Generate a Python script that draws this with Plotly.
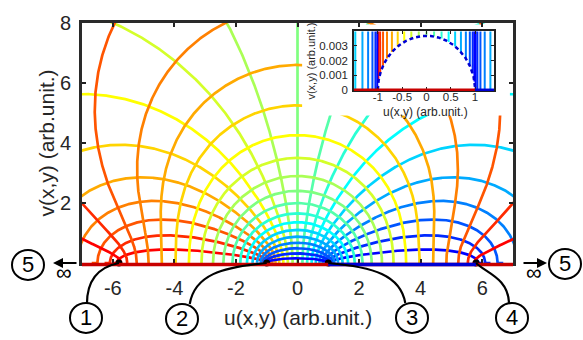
import numpy as np
import plotly.graph_objects as go

# ---------------- values ----------------
ELECTRODE_EDGES = [-5.8, -1.0, 1.0, 5.8]      # marked points 1..4 on the u axis
POINT_NAMES = ["1", "2", "3", "4"]
PHI_INDEX = [0, 1, 2, 3, 4, 5, 6, 7, 8, 9, 10, 11, 12, 13, 14, 15, 16, 17, 18, 19, 20]  # potential lines
PSI_INDEX = [0, 1, 2, 3, 4, 5, 6, 7, 8, 9, 10, 11, 12, 13, 14, 15, 16, 17, 18, 19, 20]  # field lines
EPS_FIELD = 0.0037                              # height of lowest field line (inset bump)
X_RANGE = [-7, 7]
Y_RANGE = [0, 8]
X_TICKS = [-6, -4, -2, 0, 2, 4, 6]
X_TICKTEXT = ["-6", "-4", "-2", "0", "2", "4", "6"]
Y_TICKS = [2, 4, 6, 8]
Y_TICKTEXT = ["2", "4", "6", "8"]
IN_X_RANGE = [-1.49, 1.39]
IN_Y_RANGE = [0, 0.004]
IN_X_TICKS = [-1, -0.5, 0, 0.5, 1]
IN_X_TICKTEXT = ["-1", "-0.5", "0", "0.5", "1"]
IN_Y_TICKS = [0, 0.001, 0.002, 0.003]
IN_Y_TICKTEXT = ["0", "0.001", "0.002", "0.003"]
INSET_PANEL_U = [0.15, 6.9]
INSET_PANEL_V = [4.92, 7.95]
AXIS_LABEL = "u(x,y) (arb.unit.)"
AXIS_LABEL_Y = "v(x,y) (arb.unit.)"

FONT = "Liberation Sans, Arial, Helvetica, sans-serif"


# ---------------- Jacobi elliptic machinery ----------------
def agm_K(k):
    a, b = 1.0, np.sqrt(1.0 - k * k)
    for _ in range(40):
        a, b = 0.5 * (a + b), np.sqrt(a * b)
    return np.pi / (2.0 * a)


def ellipj(u, m):
    u = np.asarray(u, dtype=float)
    a = [1.0]
    c = [np.sqrt(m)]
    b = np.sqrt(1.0 - m)
    while abs(c[-1]) > 1e-15 and len(a) < 50:
        ap = a[-1]
        a.append(0.5 * (ap + b))
        c.append(0.5 * (ap - b))
        b = np.sqrt(ap * b)
    n = len(a) - 1
    phi = (2.0 ** n) * a[n] * u
    phi_next = phi
    for i in range(n, 0, -1):
        prev = 0.5 * (phi + np.arcsin(np.clip(c[i] / a[i] * np.sin(phi), -1, 1)))
        phi_next = phi
        phi = prev
    sn = np.sin(phi)
    cn = np.cos(phi)
    dn = cn / np.cos(phi_next - phi)
    return sn, cn, dn


def sn_complex(x, y, k):
    m = k * k
    s, c, d = ellipj(x, m)
    s1, c1, d1 = ellipj(y, 1.0 - m)
    den = c1 ** 2 + m * s ** 2 * s1 ** 2
    return s * d1 / den, c * d * s1 * c1 / den


def matlab_jet(m):
    n = int(np.ceil(m / 4.0))
    u = np.concatenate([np.arange(1, n + 1) / n, np.ones(n - 1), np.arange(n, 0, -1) / n])
    g = int(np.ceil(n / 2.0)) - (1 if m % 4 == 1 else 0) + np.arange(1, len(u) + 1)
    r = g + n
    bb = g - n
    J = np.zeros((m, 3))
    for idx, val in zip(r, u):
        if 1 <= idx <= m:
            J[idx - 1, 0] = val
    for idx, val in zip(g, u):
        if 1 <= idx <= m:
            J[idx - 1, 1] = val
    for idx, val in zip(bb, u):
        if 1 <= idx <= m:
            J[idx - 1, 2] = val
    return ["rgb(%d,%d,%d)" % tuple(np.round(255 * row)) for row in J]


a_out = ELECTRODE_EDGES[3]
b_in = ELECTRODE_EDGES[2]
k = b_in / a_out
K = agm_K(k)
Kp = agm_K(np.sqrt(1 - k * k))
N = PHI_INDEX[-1]
M = PSI_INDEX[-1]
phi_colors = matlab_jet(N + 1)
psi_colors = matlab_jet(M + 1)

ys = np.unique(np.concatenate([
    np.geomspace(EPS_FIELD, Kp, 500),
    np.linspace(EPS_FIELD, Kp, 1200),
    Kp - np.geomspace(1e-7, 0.6, 400),
]))
ys = ys[(ys >= EPS_FIELD) & (ys <= Kp)]
dx = np.geomspace(1e-9, K, 450)
xs = np.unique(np.concatenate([np.linspace(-K, K, 1400), -K + dx, K - dx]))
xs = xs[(xs >= -K) & (xs <= K)]


def clean(u, v, lim=200.0):
    u = u.copy(); v = v.copy()
    bad = (np.hypot(u, v) > lim) | ~np.isfinite(u) | ~np.isfinite(v)
    u[bad] = np.nan; v[bad] = np.nan
    return u, v


def inset_filter(u, v):
    u = u.copy(); v = v.copy()
    bad = ~((v <= 0.02) & (np.abs(u) <= 2.0))
    u[bad] = np.nan; v[bad] = np.nan
    return u, v


fig = go.Figure()
inset_traces = []
LW = 2.7

# potential lines (constant x in the rectangle)
for i in PHI_INDEX[1:-1]:
    x0 = -K + 2 * K * i / N
    u, v = sn_complex(np.full_like(ys, x0), ys, k)
    u, v = u * b_in, v * b_in
    uu, vv = clean(u, v)
    col = phi_colors[N - i]
    fig.add_trace(go.Scatter(x=uu, y=vv, mode="lines", line=dict(color=col, width=LW),
                             hoverinfo="skip", xaxis="x", yaxis="y"))
    iu, iv = inset_filter(u, v)
    inset_traces.append(go.Scatter(x=iu, y=iv, mode="lines", line=dict(color=col, width=2),
                                   hoverinfo="skip", xaxis="x2", yaxis="y2"))

# field lines (constant y in the rectangle)
for j in PSI_INDEX[1:-1]:
    y0 = Kp * j / M
    u, v = sn_complex(xs, np.full_like(xs, y0), k)
    u, v = u * b_in, v * b_in
    uu, vv = clean(u, v)
    col = psi_colors[j]
    fig.add_trace(go.Scatter(x=uu, y=vv, mode="lines", line=dict(color=col, width=LW),
                             hoverinfo="skip", xaxis="x", yaxis="y"))
    iu, iv = inset_filter(u, v)
    inset_traces.append(go.Scatter(x=iu, y=iv, mode="lines", line=dict(color=col, width=2),
                                   hoverinfo="skip", xaxis="x2", yaxis="y2"))

# white panel behind the inset
fig.add_trace(go.Scatter(x=[INSET_PANEL_U[0], INSET_PANEL_U[1], INSET_PANEL_U[1], INSET_PANEL_U[0]],
                         y=[INSET_PANEL_V[0], INSET_PANEL_V[0], INSET_PANEL_V[1], INSET_PANEL_V[1]],
                         fill="toself", fillcolor="white", mode="lines", line=dict(width=0),
                         hoverinfo="skip", xaxis="x", yaxis="y"))

# marked points on the axis
fig.add_trace(go.Scatter(x=ELECTRODE_EDGES, y=[0, 0, 0, 0], mode="markers",
                         marker=dict(color="black", size=7), cliponaxis=False,
                         hoverinfo="skip", xaxis="x", yaxis="y"))

# inset traces
for tr in inset_traces:
    fig.add_trace(tr)
# lowest field line (dashed bump)
u0, v0 = sn_complex(xs, np.full_like(xs, EPS_FIELD), k)
fig.add_trace(go.Scatter(x=u0 * b_in, y=v0 * b_in, mode="lines",
                         line=dict(color=psi_colors[0], width=2.5, dash="4px,3px"),
                         hoverinfo="skip", xaxis="x2", yaxis="y2"))

shapes = []
RED = "rgb(200,0,0)"
NAVY = phi_colors[0]
# electrode / boundary line along v = 0 (main)
shapes.append(dict(type="line", xref="x", yref="paper", x0=X_RANGE[0], x1=X_RANGE[1],
                   ysizemode="pixel", yanchor=0, y0=-1.5, y1=-1.5,
                   line=dict(color=RED, width=3.5), layer="above"))
shapes.append(dict(type="line", xref="x", yref="paper", x0=ELECTRODE_EDGES[2], x1=ELECTRODE_EDGES[3],
                   ysizemode="pixel", yanchor=0, y0=-1.5, y1=-1.5,
                   line=dict(color=NAVY, width=3.5), layer="above"))
# inset boundary line
shapes.append(dict(type="line", xref="x2", yref="y2 domain", x0=IN_X_RANGE[0], x1=ELECTRODE_EDGES[2],
                   y0=0, y1=0, line=dict(color=RED, width=2.5), layer="above"))
shapes.append(dict(type="line", xref="x2", yref="y2 domain", x0=ELECTRODE_EDGES[2], x1=IN_X_RANGE[1],
                   y0=0, y1=0, line=dict(color=NAVY, width=2.5), layer="above"))

# leader curves from the marked points (pixel offsets)
LEADERS = ["M0,0 C-15,-3 -32,-12 -32,-41",
           "M0,0 C-45,-4 -72,-12 -77,-41",
           "M0,0 C45,-4 72,-12 77,-40",
           "M0,0 C10,-10 32,-15 33,-40"]
for u_pt, path in zip(ELECTRODE_EDGES, LEADERS):
    shapes.append(dict(type="path", xref="x", yref="paper", xsizemode="pixel", ysizemode="pixel",
                       xanchor=u_pt, yanchor=0, path=path,
                       line=dict(color="black", width=2.2), layer="above"))

# numbered circles (pixel positions in the page)
W, H = 583, 340
L, R, T, B = 82, 70, 14, 77
PW, PH = W - L - R, H - T - B


def px2paper(px, py):
    return (px - L) / PW, (H - B - py) / PH


CIRCLES = [("1", 86, 320), ("2", 182, 321), ("3", 412, 320), ("4", 512, 320),
           ("5", 28, 265), ("5", 565, 264)]
annotations = []
for lab, cx, cy in CIRCLES:
    xp, yp = px2paper(cx, cy)
    shapes.append(dict(type="circle", xref="paper", yref="paper", xsizemode="pixel", ysizemode="pixel",
                       xanchor=xp, yanchor=yp, x0=-16, x1=16, y0=-15, y1=15,
                       line=dict(color="black", width=2), fillcolor="white", layer="above"))
    annotations.append(dict(text=lab, xref="paper", yref="paper", x=xp, y=yp, showarrow=False,
                            xanchor="center", yanchor="middle", font=dict(size=22, color="black")))

# infinity arrows
for tip, tail_dx, sym_x in [((53, 263), 25, 64), ((547, 263), -25, 534)]:
    xp, yp = px2paper(*tip)
    annotations.append(dict(text="", xref="paper", yref="paper", x=xp, y=yp, ax=tail_dx, ay=0,
                            showarrow=True, arrowhead=2, arrowsize=1, arrowwidth=2, arrowcolor="black"))
    xs_, ys_ = px2paper(sym_x, 273)
    annotations.append(dict(text="\u221e", xref="paper", yref="paper", x=xs_, y=ys_, showarrow=False,
                            xanchor="center", yanchor="middle", font=dict(size=22, color="black")))

# axis titles
xp, yp = px2paper(298, 320)
annotations.append(dict(text=AXIS_LABEL, xref="paper", yref="paper", x=xp, y=yp, showarrow=False,
                        xanchor="center", yanchor="middle", font=dict(size=21, color="#262626")))
xp, yp = px2paper(46, 139)
annotations.append(dict(text=AXIS_LABEL_Y, xref="paper", yref="paper", x=xp, y=yp, showarrow=False,
                        textangle=-90, xanchor="center", yanchor="middle",
                        font=dict(size=21, color="#262626")))
# inset titles
xp, yp = px2paper(425, 106)
annotations.append(dict(text=AXIS_LABEL, xref="paper", yref="paper", x=xp, y=yp, showarrow=False,
                        xanchor="center", yanchor="middle", font=dict(size=12, color="#262626")))
xp, yp = px2paper(311, 54)
annotations.append(dict(text=AXIS_LABEL_Y, xref="paper", yref="paper", x=xp, y=yp, showarrow=False,
                        textangle=-90, xanchor="center", yanchor="middle",
                        font=dict(size=11, color="#262626")))

in_x0, in_y1 = px2paper(354, 22.7)
in_x1, in_y0 = px2paper(494, 83.3)

axis_common = dict(showgrid=False, zeroline=False, showline=True, mirror="allticks",
                   ticks="inside", tickcolor="#222")
fig.update_layout(
    width=W, height=H, margin=dict(l=L, r=R, t=T, b=B),
    paper_bgcolor="white", plot_bgcolor="white", showlegend=False,
    font=dict(family=FONT, color="#262626"),
    xaxis=dict(range=X_RANGE, tickvals=X_TICKS, ticktext=X_TICKTEXT, domain=[0, 1],
               linecolor="#2a2a2a", linewidth=3, ticklen=4, tickwidth=2,
               tickfont=dict(size=20), ticklabelstandoff=5, **axis_common),
    yaxis=dict(range=Y_RANGE, tickvals=Y_TICKS, ticktext=Y_TICKTEXT, domain=[0, 1],
               linecolor="#2a2a2a", linewidth=3, ticklen=4, tickwidth=2,
               tickfont=dict(size=20), ticklabelstandoff=4, **axis_common),
    xaxis2=dict(range=IN_X_RANGE, tickvals=IN_X_TICKS, ticktext=IN_X_TICKTEXT,
                domain=[in_x0, in_x1], anchor="y2",
                linecolor="#222", linewidth=1.5, ticklen=3, tickwidth=1,
                tickfont=dict(size=11.5), ticklabelstandoff=-4, **axis_common),
    yaxis2=dict(range=IN_Y_RANGE, tickvals=IN_Y_TICKS, ticktext=IN_Y_TICKTEXT,
                domain=[in_y0, in_y1], anchor="x2",
                linecolor="#222", linewidth=1.5, ticklen=3, tickwidth=1,
                tickfont=dict(size=11.5), ticklabelstandoff=2, **axis_common),
    shapes=shapes, annotations=annotations,
)

fig.write_html("out.html", config={"displayModeBar": False},
               post_script="document.body.style.margin='0';document.body.style.overflow='hidden';")
